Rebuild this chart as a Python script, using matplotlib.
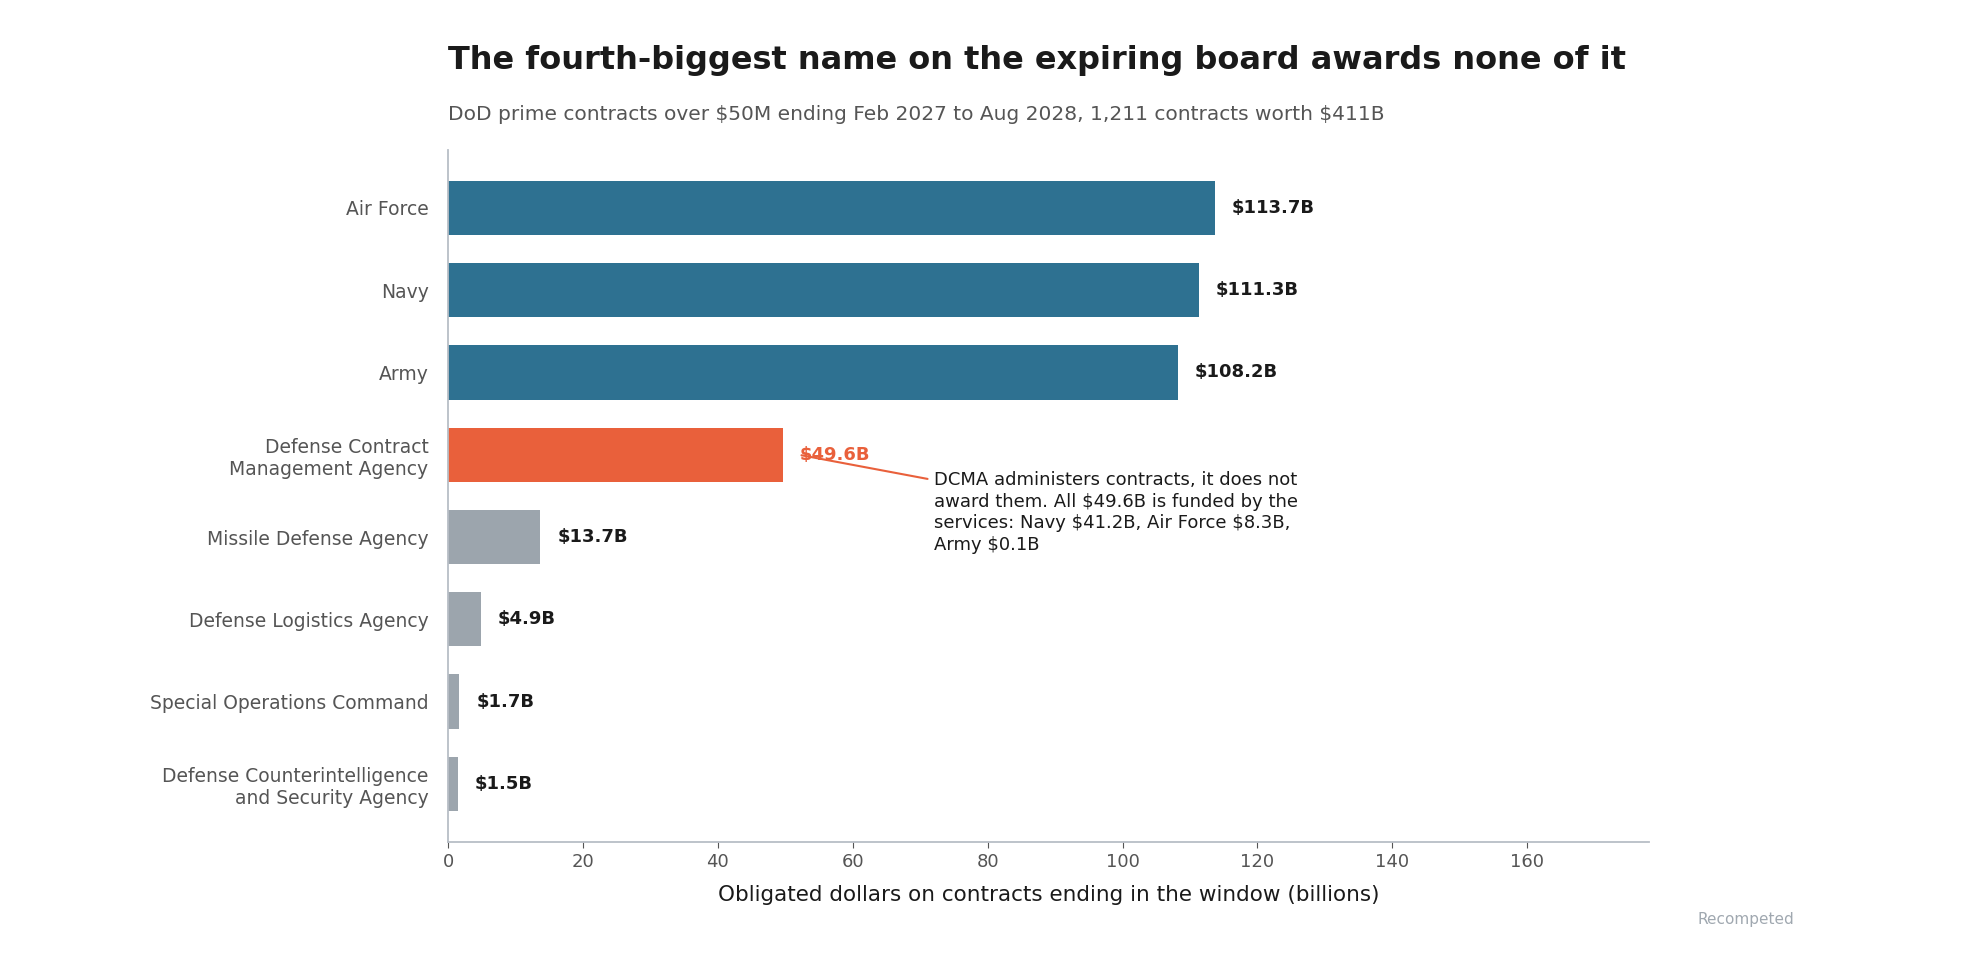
import matplotlib
matplotlib.use("Agg")
import matplotlib.pyplot as plt

plt.rcParams["font.family"] = ["DejaVu Sans"]

# ── data ──────────────────────────────────────────────────────────────────────
AGENCIES = ["Air Force", "Navy", "Army", "Defense Contract\nManagement Agency",
            "Missile Defense Agency", "Defense Logistics Agency",
            "Special Operations Command",
            "Defense Counterintelligence\nand Security Agency"]
VALUES = [113.7, 111.3, 108.2, 49.6, 13.7, 4.9, 1.7, 1.5]
GROUP = ["svc", "svc", "svc", "hl", "oth", "oth", "oth", "oth"]

COLORS = {"svc": "#2e7191", "hl": "#e9603b", "oth": "#9ca5ad"}
DARK = "#1a1a1a"
GREY = "#555555"

fig = plt.figure(figsize=(19.65, 9.76), dpi=100)
ax = fig.add_axes([0.228, 0.137, 0.611, 0.709])

ys = list(range(len(AGENCIES)))
ax.barh(ys, VALUES, height=0.66, color=[COLORS[g] for g in GROUP], zorder=2)

for y, v, g in zip(ys, VALUES, GROUP):
    ax.text(v + 2.5, y, f"\\${v}B", va="center", ha="left", fontsize=13,
            fontweight="bold", color=COLORS["hl"] if g == "hl" else DARK)

ax.annotate("", xy=(52, 3.0), xytext=(71.5, 3.3),
            arrowprops=dict(arrowstyle="-", color=COLORS["hl"], lw=1.5))
ax.text(72, 3.2, "DCMA administers contracts, it does not\n"
        "award them. All \\$49.6B is funded by the\n"
        "services: Navy \\$41.2B, Air Force \\$8.3B,\nArmy \\$0.1B",
        va="top", ha="left", fontsize=13, color=DARK, linespacing=1.25)

ax.set_yticks(ys)
ax.set_yticklabels(AGENCIES, fontsize=13.5, color=GREY)
ax.set_ylim(7.71, -0.70)
ax.set_xlim(0, 178)
ax.set_xticks(range(0, 161, 20))
ax.tick_params(axis="x", labelsize=13, colors=GREY, length=4)
ax.tick_params(axis="y", length=0, pad=14)
ax.set_xlabel("Obligated dollars on contracts ending in the window (billions)",
              fontsize=15.5, color=DARK, labelpad=10)

for s in ["top", "right"]:
    ax.spines[s].set_visible(False)
for s in ["left", "bottom"]:
    ax.spines[s].set_color("#b8bec6")
    ax.spines[s].set_linewidth(1.3)

fig.text(0.228, 0.938, "The fourth-biggest name on the expiring board awards none of it",
         fontsize=23, fontweight="bold", color=DARK, va="center")
fig.text(0.228, 0.883, "DoD prime contracts over \\$50M ending Feb 2027 to Aug 2028, "
         "1,211 contracts worth \\$411B", fontsize=14.5, color=GREY, va="center")
fig.text(0.913, 0.058, "Recompeted", fontsize=11, color="#a0a8b0",
         ha="right", va="center")

fig.savefig("out.png", dpi=100)
